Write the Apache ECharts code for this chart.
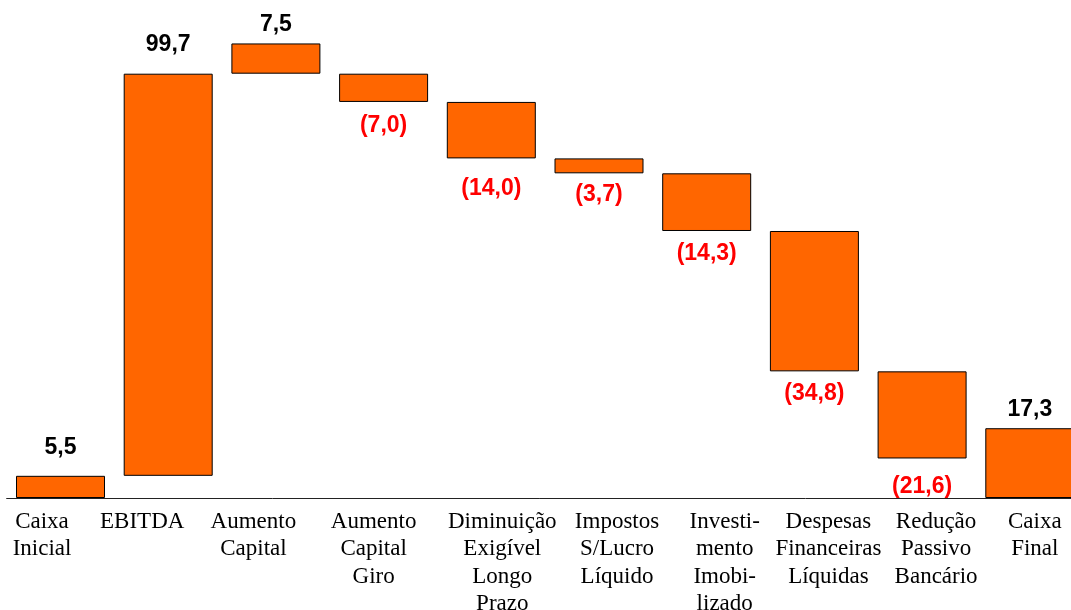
<!DOCTYPE html>
<html>
<head>
<meta charset="utf-8">
<title>Fluxo de Caixa</title>
<script src="https://cdn.jsdelivr.net/npm/echarts@6/dist/echarts.min.js"></script>
<style>
  html, body { margin: 0; padding: 0; background: #fff; }
  #chart { width: 1071px; height: 610px; }
</style>
</head>
<body>
<div id="chart"></div>
<script>
// categorias e valores
const categories = [
  "Caixa\nInicial", "EBITDA", "Aumento\nCapital", "Aumento\nCapital\nGiro",
  "Diminuição\nExigível\nLongo\nPrazo", "Impostos\nS/Lucro\nLíquido",
  "Investi-\nmento\nImobi-\nlizado", "Despesas\nFinanceiras\nLíquidas",
  "Redução\nPassivo\nBancário", "Caixa\nFinal"
]
const values = [5.5, 99.7, 7.5, -7.0, -14.0, -3.7, -14.3, -34.8, -21.6, 17.3]
const isTotal = [true, false, false, false, false, false, false, false, false, true]
// no grafico original o Aumento Capital fica "solto": a barra seguinte parte do topo do EBITDA
const carries = [true, true, false, true, true, true, true, true, true, true]

// ajustes de layout (deslocamento dos rotulos do eixo, distancia dos rotulos)
const axisLabelShift = [-18.5, -26, -22.5, -10, 11, 18, 18, 14, 14, 5]
const labelGap = [20, 21, 11, 13, 20, 11, 12, 12, 18, 11]

const fmt = (v) => {
  const s = Math.abs(v).toFixed(1).replace(".", ",")
  return v < 0 ? "(" + s + ")" : s
}

// base invisivel + barra visivel (cascata)
const baseData = []
const barData = []
let running = 0
values.forEach((v, i) => {
  if (isTotal[i]) {
    baseData.push(0)
    barData.push(v)
    running = v
  } else {
    if (v >= 0) {
      baseData.push(running)
      barData.push(v)
    } else {
      baseData.push(running + v)
      barData.push(-v)
    }
    if (carries[i]) running += v
  }
})

const axisData = categories.map((c, i) => {
  const d = axisLabelShift[i] * 2
  return {
    value: c,
    textStyle: {padding: d >= 0 ? [0, 0, 0, d] : [0, -d, 0, 0]}
  }
})

const chart = echarts.init(document.getElementById("chart"))
chart.setOption({
  animation: false,
  grid: {
    left: 6.65, top: 14, width: 1077, height: 484,
    containLabel: false,
    outerBoundsMode: "none"
  },
  xAxis: {
    type: "category",
    data: axisData,
    axisTick: {show: false},
    axisLine: {lineStyle: {color: "#222", width: 1}},
    axisLabel: {
      interval: 0,
      margin: 10,
      color: "#000",
      fontFamily: "Liberation Serif",
      fontSize: 23,
      lineHeight: 27.5
    }
  },
  yAxis: {
    type: "value",
    min: 0,
    max: 120,
    show: false,
    splitLine: {show: false}
  },
  series: [
    {
      type: "bar",
      stack: "w",
      barWidth: 89,
      silent: true,
      itemStyle: {color: "transparent"},
      data: baseData
    },
    {
      type: "bar",
      stack: "w",
      barWidth: 89,
      itemStyle: {color: "#FF6600", borderColor: "#000", borderWidth: 1},
      data: barData.map((h, i) => {
        const neg = values[i] < 0
        return {
          value: h,
          label: {
            show: true,
            position: neg ? "bottom" : "top",
            distance: neg ? labelGap[i] - 1 : labelGap[i] - 3.5,
            formatter: fmt(values[i]),
            color: neg ? "#FF0000" : "#000",
            fontFamily: "Liberation Sans",
            fontWeight: "bold",
            fontSize: 23,
            lineHeight: 23
          }
        }
      })
    }
  ]
})
window.addEventListener("resize", () => chart.resize())
</script>
</body>
</html>
